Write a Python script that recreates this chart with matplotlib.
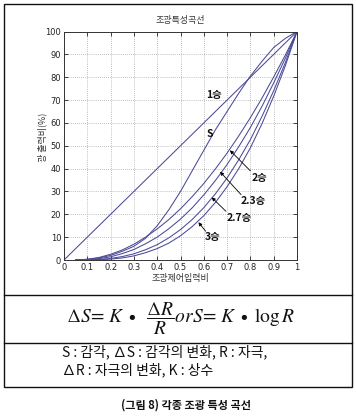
import matplotlib
matplotlib.use("Agg")
import matplotlib.pyplot as plt
from matplotlib.patches import Rectangle
from matplotlib.lines import Line2D

# ---- data ----
x_lin = [0.0, 0.1, 0.2, 0.3, 0.4, 0.5, 0.6, 0.7, 0.8, 0.9, 1.0]
y_lin = [0, 10, 20, 30, 40, 50, 60, 70, 80, 90, 100]

x_c = [0.05, 0.10, 0.15, 0.20, 0.25, 0.30, 0.35, 0.40, 0.45, 0.50,
       0.55, 0.60, 0.65, 0.70, 0.75, 0.80, 0.85, 0.90, 0.95, 1.00]
y_s   = [0, 0.3, 0.9, 2.0, 3.8, 6.0, 9.5, 15.0, 22.0, 30.0,
         39.0, 48.0, 57.0, 65.0, 73.0, 80.5, 87.0, 93.0, 97.0, 100]
y_p2  = [0, 0.3, 1.1, 2.5, 4.4, 6.9, 10.0, 13.6, 17.7, 22.4,
         27.7, 33.5, 39.9, 46.8, 54.3, 62.3, 70.9, 80.1, 89.7, 100]
y_p23 = [0, 0.1, 0.6, 1.4, 2.8, 4.6, 7.1, 10.0, 13.7, 17.9,
         22.8, 28.5, 34.8, 41.8, 49.6, 58.0, 67.3, 77.5, 88.3, 100]
y_p27 = [0, 0.04, 0.2, 0.7, 1.5, 2.7, 4.5, 6.7, 9.7, 13.3,
         17.7, 22.9, 29.0, 35.9, 43.9, 52.7, 62.9, 74.1, 86.4, 100]
y_p3  = [0, 0.01, 0.1, 0.4, 0.9, 1.8, 3.2, 5.0, 7.4, 10.6,
         14.6, 19.4, 25.2, 32.1, 40.0, 49.1, 59.7, 71.7, 85.0, 100]

x_ticks = [0, 0.1, 0.2, 0.3, 0.4, 0.5, 0.6, 0.7, 0.8, 0.9, 1]
x_ticklabels = ["0", "0.1", "0.2", "0.3", "0.4", "0.5", "0.6", "0.7", "0.8", "0.9", "1"]
y_ticks = [0, 10, 20, 30, 40, 50, 60, 70, 80, 90, 100]

labels = ["1승", "S", "2승", "2.3승", "2.7승", "3승"]

KR = ["Noto Sans CJK KR", "DejaVu Sans"]
plt.rcParams["mathtext.fontset"] = "stix"

W, H = 356, 420
fig = plt.figure(figsize=(W / 100, H / 100), dpi=100)

def fx(px):
    return px / W

def fy(py):
    return 1 - py / H

ax = fig.add_axes([fx(64), fy(260), fx(297) - fx(64), fy(31.5) - fy(260)])
col = "#4a4a98"
ax.plot(x_lin, y_lin, color=col, lw=0.75)
for ys in (y_s, y_p2, y_p23, y_p27, y_p3):
    ax.plot(x_c, ys, color=col, lw=0.75)

ax.set_xlim(0, 1)
ax.set_ylim(0, 100)
ax.set_xticks(x_ticks)
ax.set_xticklabels(x_ticklabels)
ax.set_yticks(y_ticks)
ax.grid(True, linestyle=(0, (1, 1.5)), color="#aaaaaa", lw=0.6)
ax.tick_params(direction="in", length=3, width=0.6, top=True, right=True,
               labelsize=6, pad=2, colors="#222222")
for sp in ax.spines.values():
    sp.set_linewidth(0.7)
    sp.set_color("#333333")
for t in ax.get_xticklabels() + ax.get_yticklabels():
    t.set_fontfamily(["Liberation Sans Narrow", "DejaVu Sans"])

# curve labels
lab_kw = dict(family=KR, fontweight="bold", fontsize=7.5, color="#111111",
              ha="center", va="center")
ax.text(0.645, 72, labels[0], **lab_kw)
ax.text(0.627, 55, labels[1], **lab_kw)
arr = dict(arrowstyle="-|>", lw=0.6, color="black", mutation_scale=5,
           shrinkA=0, shrinkB=0)
ax.text(0.84, 36, labels[2], **lab_kw)
ax.annotate("", xy=(0.712, 48), xytext=(0.80, 39), arrowprops=arr)
ax.text(0.81, 26, labels[3], **lab_kw)
ax.annotate("", xy=(0.67, 38.6), xytext=(0.76, 28.6), arrowprops=arr)
ax.text(0.75, 18.2, labels[4], **lab_kw)
ax.annotate("", xy=(0.634, 27.4), xytext=(0.695, 21.3), arrowprops=arr)
ax.text(0.637, 10, labels[5], **lab_kw)
ax.annotate("", xy=(0.577, 16.5), xytext=(0.608, 12.6), arrowprops=arr)

# chart texts
fig.text(fx(180), fy(21), "조광특성곡선", family=KR, fontsize=6.5,
         color="#333333", ha="center", va="center")
fig.text(fx(180), fy(279), "조광제어입력비", family=KR, fontsize=6.5,
         color="#333333", ha="center", va="center")
fig.text(fx(42), fy(137), "광 출력비(%)", family=KR, fontsize=6.5,
         color="#333333", ha="center", va="center", rotation=90)

# table borders
fig.add_artist(Rectangle((fx(4), fy(387)), fx(352) - fx(4), fy(4) - fy(387),
                         transform=fig.transFigure, fill=False,
                         edgecolor="#111111", lw=1.0))
for yy in (295, 343):
    fig.add_artist(Line2D([fx(4), fx(352)], [fy(yy), fy(yy)],
                          transform=fig.transFigure, color="#111111", lw=1.0))

# formula
D = "\u2206"
formula = (r"$" + D + r"S\!=\,K\;\bullet\;\;\dfrac{" + D + r"R}{R}\mathit{or}S\!=\,K\;\bullet\;\log R$")
fig.text(fx(180), fy(319), formula,
         fontsize=14, ha="center", va="center", color="#111111")

# legend text
fig.text(fx(62), fy(352), "S : 감각, ∆S : 감각의 변화, R : 자극,",
         family=KR, fontsize=10, ha="left", va="center", color="#111111")
fig.text(fx(62), fy(370), "∆R : 자극의 변화, K : 상수",
         family=KR, fontsize=10, ha="left", va="center", color="#111111")

# caption
fig.text(fx(186), fy(405), "(그림 8) 각종 조광 특성 곡선", family=KR,
         fontsize=8, fontweight="bold", ha="center", va="center",
         color="#111111")

fig.savefig("out.png", dpi=100)
